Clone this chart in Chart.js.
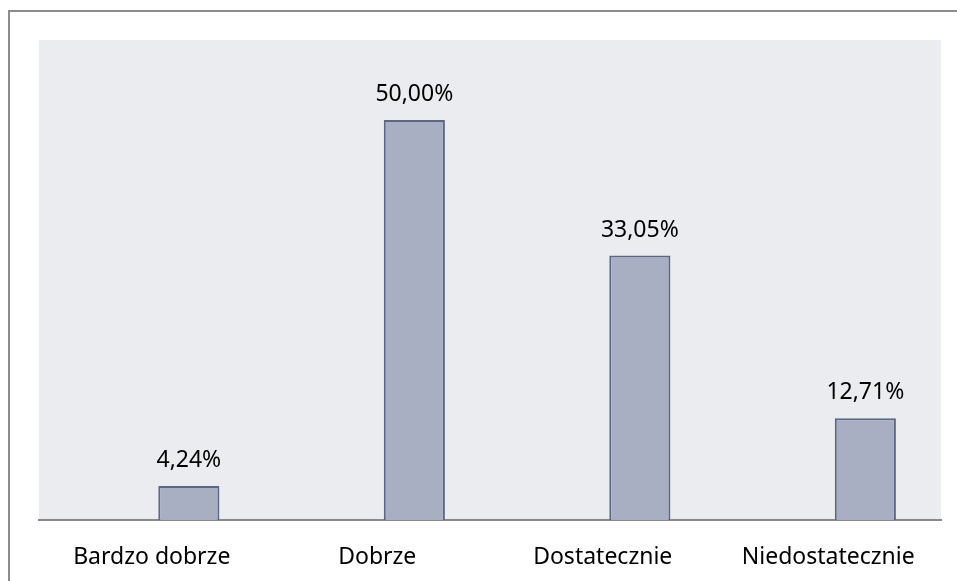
<!DOCTYPE html>
<html>
<head>
<meta charset="utf-8">
<script src="https://cdn.jsdelivr.net/npm/chart.js@4/dist/chart.umd.min.js"></script>
<style>
  html, body { margin: 0; padding: 0; background: #ffffff; }
  #wrap { width: 957px; height: 581px; }
</style>
</head>
<body>
<div id="wrap"><canvas id="ocenyChart" width="957" height="581"></canvas></div>
<script>
// grades and their share in percent
const categories = ['Bardzo dobrze', 'Dobrze', 'Dostatecznie', 'Niedostatecznie'];
const values = [4.24, 50.00, 33.05, 12.71];
// empty series on the left, keeps the bars shifted like in the sheet
const emptySeries = [null, null, null, null];

const fontFamily = '"Noto Sans", "Open Sans", sans-serif';

// grey plot area and the outer frame
const frame = {
    id: 'frame',
    beforeDraw(chart){
        const ctx = chart.ctx;
        const a = chart.chartArea;
        ctx.save();
        ctx.fillStyle = '#ffffff';
        ctx.fillRect(0, 0, chart.width, chart.height);
        ctx.fillStyle = '#ebecf0';
        ctx.fillRect(a.left, a.top, a.right - a.left, a.bottom - a.top);
        ctx.strokeStyle = '#8c8c8c';
        ctx.lineWidth = 2;
        ctx.strokeRect(9, 11, chart.width + 20, chart.height + 20);
        ctx.restore();
    }
};

// percent labels above the bars
const valueLabels = {
    id: 'valueLabels',
    afterDatasetsDraw(chart){
        const ctx = chart.ctx;
        const meta = chart.getDatasetMeta(1);
        ctx.save();
        ctx.font = '23px ' + fontFamily;
        ctx.fillStyle = '#000000';
        ctx.textAlign = 'center';
        ctx.textBaseline = 'alphabetic';
        meta.data.forEach((bar, i) => {
            const txt = values[i].toFixed(2).replace('.', ',') + '%';
            ctx.fillText(txt, bar.x, bar.y - 19);
        });
        ctx.restore();
    }
};

new Chart(
document.getElementById('ocenyChart'),
{
    type: 'bar',
    data: {
        labels: categories,
        datasets: [{
            label: '',
            data: emptySeries
        }, {
            label: 'Oceny',
            data: values,
            backgroundColor: '#a9afc2',
            borderColor: '#5c6783',
            borderWidth: 2
        }]
    },
    options: {
        responsive: false,
        animation: false,
        categoryPercentage: 0.658,
        barPercentage: 0.824,
        layout: {
            padding: { left: 39, top: 40, right: 16, bottom: 0 }
        },
        plugins: {
            legend: { display: false },
            tooltip: { enabled: false }
        },
        scales: {
            x: {
                grid: { display: false, drawTicks: false },
                border: { display: true, color: '#898989', width: 2 },
                ticks: {
                    color: '#000000',
                    font: { family: fontFamily, size: 23 },
                    padding: 24,
                    maxRotation: 0
                },
                afterFit(scale){ scale.height = 61; }
            },
            y: {
                display: false,
                min: 0,
                max: 60
            }
        }
    },
    plugins: [frame, valueLabels]
});
</script>
</body>
</html>
